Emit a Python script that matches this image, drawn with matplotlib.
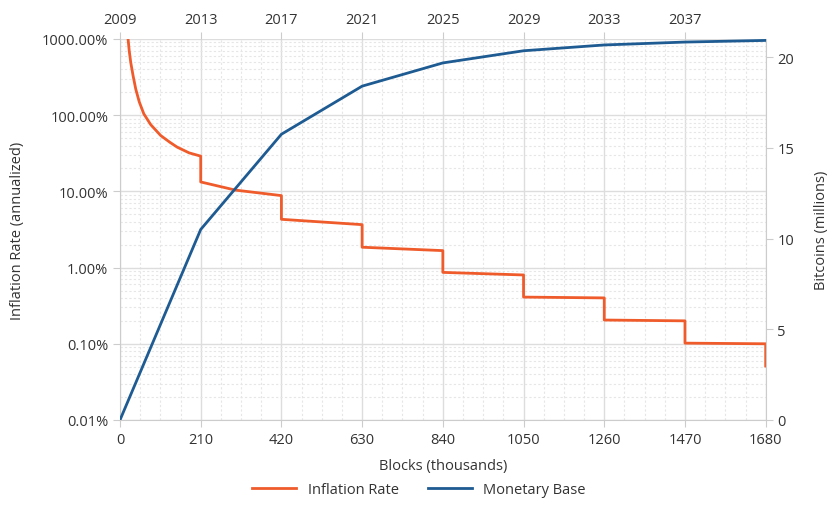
import matplotlib
matplotlib.use("Agg")
import matplotlib.pyplot as plt
from matplotlib.ticker import FixedLocator, MultipleLocator, NullFormatter

plt.rcParams['font.family'] = ['Open Sans', 'DejaVu Sans']

# inflation rate (%), blocks in thousands
infl_x = [21, 24, 28, 34, 41, 50, 62, 80, 106, 130, 149, 180, 210, 210, 300, 420, 420,
          630, 630, 840, 840, 1050, 1050, 1260, 1260, 1470, 1470, 1680, 1680]
infl_y = [1000, 700, 490, 330, 220, 150, 104, 75, 54, 44, 38, 32, 29, 13.3, 10.4, 8.8, 4.3,
          3.66, 1.85, 1.67, 0.865, 0.80, 0.41, 0.40, 0.205, 0.20, 0.102, 0.10, 0.051]

# monetary base (millions of bitcoins)
base_x = [0, 210, 420, 630, 840, 1050, 1260, 1470, 1680]
base_y = [0, 10.5, 15.75, 18.4, 19.68, 20.35, 20.67, 20.83, 20.92]

block_ticks = [0, 210, 420, 630, 840, 1050, 1260, 1470, 1680]
year_ticks = [0, 210, 420, 630, 840, 1050, 1260, 1470]
year_labels = ['2009', '2013', '2017', '2021', '2025', '2029', '2033', '2037']
pct_ticks = [0.01, 0.1, 1, 10, 100, 1000]
pct_labels = ['0.01%', '0.10%', '1.00%', '10.00%', '100.00%', '1000.00%']

orange = '#EF5B2B'
blue = '#1E5B92'
txt = '#333333'
grey = '#cccccc'
fs = 10.5

fig = plt.figure(figsize=(8.38, 5.06), dpi=100)
ax = fig.add_axes([0.1432, 0.168, 0.7705, 0.753])

ax.set_yscale('log')
ax.set_ylim(0.01, 1000)
ax.set_xlim(0, 1680)
ax.yaxis.set_major_locator(FixedLocator(pct_ticks))
ax.set_yticklabels(pct_labels)
ax.yaxis.set_minor_formatter(NullFormatter())
ax.set_xticks(block_ticks)
ax.xaxis.set_minor_locator(MultipleLocator(52.5))

ax.grid(True, which='major', color='#dddddd', linewidth=1.0)
ax.grid(True, which='minor', color='#e6e6e6', linewidth=0.8, linestyle=(0, (2, 2)))
ax.set_axisbelow(True)

l1, = ax.plot(infl_x, infl_y, color=orange, linewidth=2, label='Inflation Rate', zorder=3)

ax2 = ax.twinx()
ax2.set_ylim(0, 21)
ax2.set_yticks([0, 5, 10, 15, 20])
l2, = ax2.plot(base_x, base_y, color=blue, linewidth=2, label='Monetary Base', zorder=3)

ax3 = ax.twiny()
ax3.set_xlim(0, 1680)
ax3.set_xticks(year_ticks)
ax3.set_xticklabels(year_labels)

for a in (ax, ax2, ax3):
    for s in a.spines.values():
        s.set_visible(False)
    a.tick_params(which='both', colors=grey, labelcolor=txt, labelsize=fs, length=5)
    a.tick_params(which='minor', length=0)
ax.spines['left'].set_visible(True)
ax.spines['left'].set_color(grey)
ax.spines['bottom'].set_visible(True)
ax.spines['bottom'].set_color(grey)
ax2.spines['right'].set_visible(True)
ax2.spines['right'].set_color(grey)

ax.set_xlabel('Blocks (thousands)', color=txt, fontsize=fs, labelpad=8)
ax.set_ylabel('Inflation Rate (annualized)', color=txt, fontsize=fs, labelpad=12)
ax2.set_ylabel('Bitcoins (millions)', color=txt, fontsize=fs, labelpad=14)

fig.legend(handles=[l1, l2], loc='lower center', bbox_to_anchor=(0.5, -0.01), ncol=2,
           frameon=False, fontsize=fs, labelcolor=txt, handlelength=3, columnspacing=2)

fig.savefig('out.png', dpi=100)
